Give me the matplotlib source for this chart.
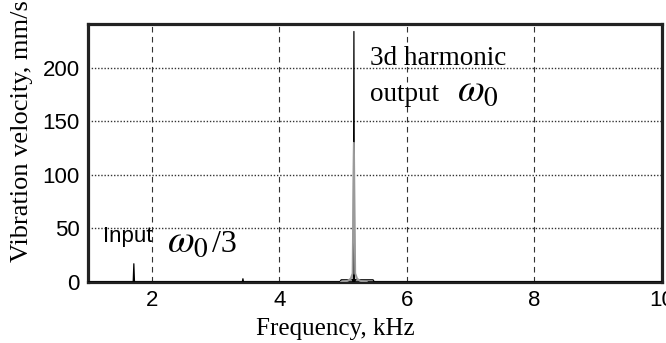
import matplotlib
matplotlib.use("Agg")
import matplotlib.pyplot as plt

# spectrum of the driven response (black) and of the resonator output (grey)
freq_main = [1.00, 1.71, 1.72, 1.73, 3.42, 3.43, 3.44, 4.95, 4.97, 5.15, 5.16, 5.17, 5.18, 5.19, 5.47, 5.49, 10.00]
vel_main = [0.0, 0.0, 17.0, 0.0, 0.0, 3.0, 0.0, 0.0, 2.0, 2.0, 0.0, 234.0, 0.0, 2.0, 2.0, 0.0, 0.0]

freq_grey = [4.97, 5.07, 5.12, 5.15, 5.17, 5.19, 5.22, 5.27, 5.37]
vel_grey = [0.0, 1.0, 3.0, 8.0, 130.0, 8.0, 3.0, 1.0, 0.0]

x_ticks = [2, 4, 6, 8, 10]
y_ticks = [0, 50, 100, 150, 200]

plt.rcParams["mathtext.fontset"] = "stix"

fig = plt.figure(figsize=(6.66, 3.43), dpi=100)
ax = fig.add_axes([0.132, 0.178, 0.862, 0.752])

ax.plot(freq_main, vel_main, color="black", lw=0.9, zorder=3)
ax.plot(freq_grey, vel_grey, color="#9a9a9a", lw=1.4, zorder=4)

ax.set_xlim(1, 10)
ax.set_ylim(0, 241)
ax.set_xticks(x_ticks)
ax.set_yticks(y_ticks)
ax.tick_params(length=0, labelsize=16, pad=6)
for lab in ax.get_xticklabels() + ax.get_yticklabels():
    lab.set_family("Liberation Sans")

for x in x_ticks[:-1]:
    ax.axvline(x, color="#333333", lw=0.8, ls=(0, (5, 4)), zorder=1)
for y in y_ticks[1:]:
    ax.axhline(y, color="#333333", lw=1.0, ls=(0, (1, 1.3)), zorder=1)

for sp in ax.spines.values():
    sp.set_linewidth(2.3)
    sp.set_color("#222222")

# annotations: input line at w0/3, third harmonic at w0
ax.text(1.23, 37, "Input", family="Liberation Sans", fontsize=16)
ax.text(2.24, 28, r"$\omega_0$", fontsize=28)
ax.text(2.94, 28, "/3", family="Liberation Serif", fontsize=23)
ax.text(5.42, 203, "3d harmonic", family="Liberation Serif", fontsize=19.5)
ax.text(5.42, 169, "output", family="Liberation Serif", fontsize=19.5)
ax.text(6.78, 169, r"$\omega_0$", fontsize=28)

fig.text(0.503, 0.023, "Frequency, kHz", family="Liberation Serif", fontsize=18, ha="center")
fig.text(0.033, 0.617, "Vibration velocity, mm/s", family="Liberation Serif", fontsize=19,
         rotation=90, ha="center", va="center")

fig.savefig("out.png", dpi=100)
